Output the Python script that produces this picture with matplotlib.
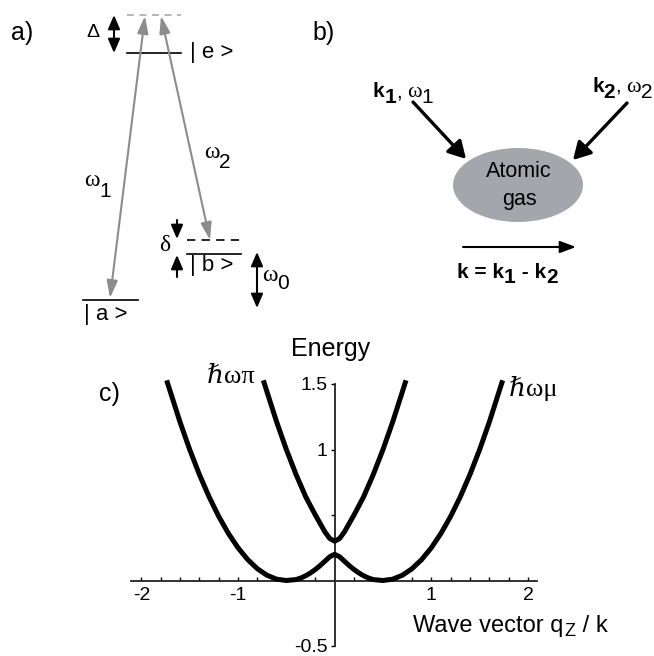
import matplotlib
matplotlib.use("Agg")
import matplotlib.pyplot as plt
from matplotlib.patches import Ellipse

plt.rcParams['font.family'] = ['Liberation Sans', 'DejaVu Sans']
plt.rcParams['axes.unicode_minus'] = False
plt.rcParams['lines.scale_dashes'] = False

# dispersion curves (q in units of k, energy)
q_low = [-1.73, -1.6, -1.5, -1.4, -1.3, -1.2, -1.1, -1.0, -0.9, -0.8, -0.7, -0.6,
         -0.5, -0.4, -0.35, -0.3, -0.25, -0.2, -0.15, -0.1, -0.05, 0.0,
         0.05, 0.1, 0.15, 0.2, 0.25, 0.3, 0.35, 0.4, 0.5,
         0.6, 0.7, 0.8, 0.9, 1.0, 1.1, 1.2, 1.3, 1.4, 1.5, 1.6, 1.73]
e_low = [1.51, 1.21, 1.00, 0.81, 0.64, 0.49, 0.36, 0.25, 0.16, 0.09, 0.04, 0.01,
         0.0, 0.007, 0.019, 0.036, 0.058, 0.084, 0.114, 0.148, 0.182, 0.20,
         0.182, 0.148, 0.114, 0.084, 0.058, 0.036, 0.019, 0.007, 0.0,
         0.01, 0.04, 0.09, 0.16, 0.25, 0.36, 0.49, 0.64, 0.81, 1.00, 1.21, 1.51]
q_up = [-0.73, -0.7, -0.6, -0.5, -0.4, -0.3, -0.2, -0.1, -0.05, 0.0,
        0.05, 0.1, 0.2, 0.3, 0.4, 0.5, 0.6, 0.7, 0.73]
e_up = [1.51, 1.44, 1.21, 1.00, 0.81, 0.64, 0.50, 0.37, 0.32, 0.30,
        0.32, 0.37, 0.50, 0.64, 0.81, 1.00, 1.21, 1.44, 1.51]

x_ticks = [-2, -1, 1, 2]
x_labels = ['-2', '-1', '1', '2']
x_minor = [-2.0, -1.8, -1.6, -1.4, -1.2, -1.0, -0.8, -0.6, -0.4, -0.2,
           0.2, 0.4, 0.6, 0.8, 1.0, 1.2, 1.4, 1.6, 1.8, 2.0]
y_ticks = [-0.5, 0.5, 1, 1.5]
y_labels = ['-0.5', '', '1', '1.5']

SERIF = ['Liberation Serif', 'DejaVu Serif']
GRAY = '#8c8c8c'

fig = plt.figure(figsize=(6.54, 6.56), dpi=100)

# panel c: dispersion
ax = fig.add_axes([130.7 / 654, 10 / 656, 406 / 654, 262 / 656])
ax.set_xlim(-2.11, 2.09)
ax.set_ylim(-0.5, 1.5)
ax.patch.set_alpha(0)
for s in ['top', 'right']:
    ax.spines[s].set_visible(False)
ax.spines['left'].set_position(('data', 0))
ax.spines['bottom'].set_position(('data', 0))
for s in ['left', 'bottom']:
    ax.spines[s].set_linewidth(1.3)
    ax.spines[s].set_color('#222222')
ax.set_xticks(x_ticks)
ax.set_xticklabels(x_labels)
ax.set_xticks(x_minor, minor=True)
ax.set_yticks(y_ticks)
ax.set_yticklabels(y_labels)
ax.tick_params(axis='x', which='both', direction='in', length=3, width=1, pad=5, labelsize=14)
ax.tick_params(axis='y', direction='out', length=3, width=1, pad=2, labelsize=14)
ax.plot(q_low, e_low, color='black', lw=3.6, clip_on=False, zorder=3)
ax.plot(q_up, e_up, color='black', lw=3.6, clip_on=False, zorder=3)

# overlay in pixel coordinates for the sketches and free text
ov = fig.add_axes([0, 0, 1, 1])
ov.set_xlim(0, 654)
ov.set_ylim(656, 0)
ov.axis('off')
ov.patch.set_alpha(0)

renderer = fig.canvas.get_renderer()


def chain(x, y, parts):
    # parts: (text, gap before, drop below baseline, text kwargs)
    for s, gap, dy, kw in parts:
        x += gap
        t = ov.text(x, y + dy, s, ha='left', va='baseline', **kw)
        x += t.get_window_extent(renderer=renderer).width


def arrow(x1, y1, x2, y2, style, color='black', lw=1.5, ms=12):
    ov.annotate('', xy=(x2, y2), xytext=(x1, y1),
                arrowprops=dict(arrowstyle=style, color=color, lw=lw,
                                mutation_scale=ms, shrinkA=0, shrinkB=0))


# panel a: level scheme
ov.text(11, 40, 'a)', fontsize=18, va='baseline')
ov.plot([127, 181], [15, 15], color='#b0b0b0', lw=1.3, dashes=(5, 4))
ov.plot([127, 181], [53, 53], color='black', lw=1.2)
ov.plot([83, 138], [300, 300], color='black', lw=1.2)
ov.plot([187, 241], [254, 254], color='black', lw=1.2)
ov.plot([187, 241], [240, 240], color='black', lw=1.2, dashes=(6, 4.5))
ov.text(190, 58, '| e >', fontsize=16, va='baseline')
ov.text(190, 271, '| b >', fontsize=16, va='baseline')
ov.text(84, 320, '| a >', fontsize=16, va='baseline')
ov.text(93, 37, 'Δ', fontsize=14, ha='center', va='baseline')
ov.text(165, 251, 'δ', fontsize=17, ha='center', va='baseline', family=SERIF)
arrow(114, 15, 114, 53, '<|-|>,head_length=0.7,head_width=0.3')
arrow(177, 220, 177, 239, '-|>,head_length=0.7,head_width=0.3')
arrow(177, 277, 177, 255, '-|>,head_length=0.7,head_width=0.3')
arrow(257, 252, 257, 308, '<|-|>,head_length=0.7,head_width=0.3')
arrow(110, 298, 145, 16, '<|-|>,head_length=0.8,head_width=0.25', color=GRAY, lw=1.5, ms=13)
arrow(161, 16, 210, 240, '<|-|>,head_length=0.8,head_width=0.25', color=GRAY, lw=1.5, ms=13)
chain(84, 186, [('ω', 0, 0, dict(fontsize=17, family=SERIF)),
                ('1', 0, 11, dict(fontsize=15))])
chain(204, 158, [('ω', 0, 0, dict(fontsize=17, family=SERIF)),
                 ('2', 0, 10, dict(fontsize=15))])
chain(262, 281, [('ω', 0, 0, dict(fontsize=17, family=SERIF)),
                 ('0', 0, 8, dict(fontsize=15))])

# panel b: beam geometry
ov.text(312, 40, 'b)', fontsize=18, va='baseline')
bold = dict(fontsize=15, fontweight='bold')
chain(373, 97, [('k', 0, 0, bold), ('1', 0, 6, bold), (',', 0, 0, dict(fontsize=15)),
                ('ω', 5, 0, dict(fontsize=16, family=SERIF)), ('1', 0, 6, dict(fontsize=15))])
chain(592, 92, [('k', 0, 0, bold), ('2', 0, 6, bold), (',', 0, 0, dict(fontsize=15)),
                ('ω', 5, 0, dict(fontsize=16, family=SERIF)), ('2', 0, 6, dict(fontsize=15))])
arrow(413, 102, 466, 159, '-|>,head_length=0.8,head_width=0.45', lw=2.4, ms=13)
arrow(627, 103, 573, 160, '-|>,head_length=0.8,head_width=0.45', lw=2.4, ms=13)
ov.add_patch(Ellipse((518, 185), 130, 74, color='#a4a6ab', lw=0))
ov.text(519, 177, 'Atomic', fontsize=15.5, ha='center', va='baseline')
ov.text(519, 205, 'gas', fontsize=15.5, ha='center', va='baseline')
arrow(463, 247, 576, 247, '-|>,head_length=0.8,head_width=0.3', lw=1.5, ms=12)
chain(457, 278, [('k = k', 0, 0, bold), ('1', 0, 5, bold), (' - k', 0, 0, bold),
                 ('2', 0, 5, bold)])

# panel c labels
ov.text(99, 401, 'c)', fontsize=18, va='baseline')
ov.text(331, 356, 'Energy', fontsize=18, ha='center', va='baseline')
chain(207, 383, [('ℏ', 0, 0, dict(fontsize=19, family=SERIF, style='italic')),
                 ('ωπ', 0, 0, dict(fontsize=19, family=SERIF))])
chain(509, 396, [('ℏ', 0, 0, dict(fontsize=19, family=SERIF, style='italic')),
                 ('ωμ', 0, 0, dict(fontsize=19, family=SERIF))])
chain(413, 632, [('Wave vector q', 0, 0, dict(fontsize=17)),
                 ('Z', 1, 4, dict(fontsize=13)),
                 (' / k', 0, 0, dict(fontsize=17))])

fig.savefig('out.png', dpi=100)
